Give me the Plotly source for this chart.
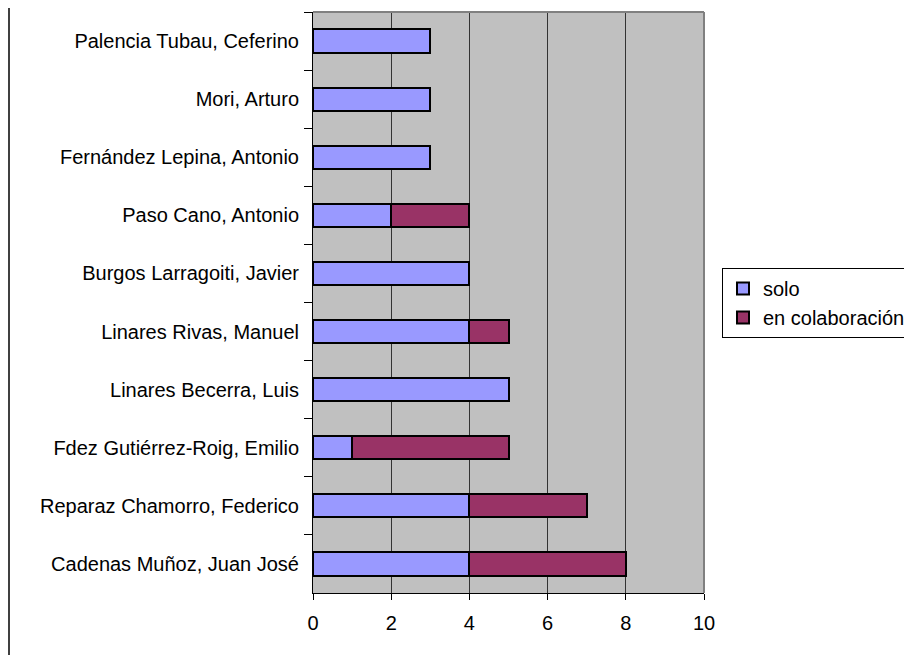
import plotly.graph_objects as go

categories = [
    "Palencia Tubau, Ceferino",
    "Mori, Arturo",
    "Fernández Lepina, Antonio",
    "Paso Cano, Antonio",
    "Burgos Larragoiti, Javier",
    "Linares Rivas, Manuel",
    "Linares Becerra, Luis",
    "Fdez Gutiérrez-Roig, Emilio",
    "Reparaz Chamorro, Federico",
    "Cadenas Muñoz, Juan José",
]
solo = [3, 3, 3, 2, 4, 4, 5, 1, 4, 4]
colaboracion = [0, 0, 0, 2, 0, 1, 0, 4, 3, 4]
x_ticks = [0, 2, 4, 6, 8, 10]

FONT = "Liberation Sans, Arial, sans-serif"
# page places the figure at an 8px body offset
OFF = 8
W, H = 912 - OFF, 655 - OFF
L, R, T, B = 313 - OFF, 704 - OFF, 12 - OFF, 593 - OFF

fig = go.Figure()
fig.add_trace(go.Bar(
    y=categories, x=solo, orientation="h", name="solo",
    marker=dict(color="#9999FF", line=dict(color="black", width=2)),
))
fig.add_trace(go.Bar(
    y=categories, x=colaboracion, orientation="h", name="en colaboración",
    marker=dict(color="#993366", line=dict(color="black", width=2)),
))

fig.update_layout(
    width=W, height=H,
    margin=dict(l=L, r=W - R, t=T, b=H - B, pad=0, autoexpand=False),
    barmode="stack", bargap=0.6,
    plot_bgcolor="#C0C0C0", paper_bgcolor="white",
    font=dict(family=FONT, size=20, color="black"),
    showlegend=True,
    legend=dict(
        x=(722 - OFF - L) / (R - L), y=(B - (268 - OFF)) / (B - T),
        xanchor="left", yanchor="top",
        bgcolor="white", bordercolor="black", borderwidth=1,
        traceorder="normal", font=dict(size=20),
        itemwidth=30, tracegroupgap=0,
    ),
    xaxis=dict(
        range=[0, 10], tickvals=x_ticks, ticktext=[str(v) for v in x_ticks],
        showgrid=True, gridcolor="#333333", gridwidth=1,
        zeroline=False, showline=True, linecolor="black", linewidth=1,
        ticks="outside", ticklen=6, tickcolor="black",
        automargin=False, ticklabelstandoff=6,
    ),
    yaxis=dict(
        autorange="reversed", type="category",
        showgrid=False, zeroline=False, showline=True,
        linecolor="black", linewidth=1,
        ticks="outside", ticklen=8, tickcolor="black", tickson="boundaries",
        ticklabelstandoff=9, automargin=False,
    ),
    shapes=[
        dict(type="line", xref="paper", yref="paper", x0=0, x1=1, y0=1, y1=1,
             line=dict(color="#808080", width=2)),
        dict(type="line", xref="paper", yref="paper", x0=1, x1=1, y0=0, y1=1,
             line=dict(color="#808080", width=2)),
        dict(type="line", xref="paper", yref="paper",
             x0=(1 - L) / (R - L), x1=(1 - L) / (R - L), y0=-1, y1=2,
             line=dict(color="black", width=1.5)),
    ],
)

fig.write_html("out.html")
